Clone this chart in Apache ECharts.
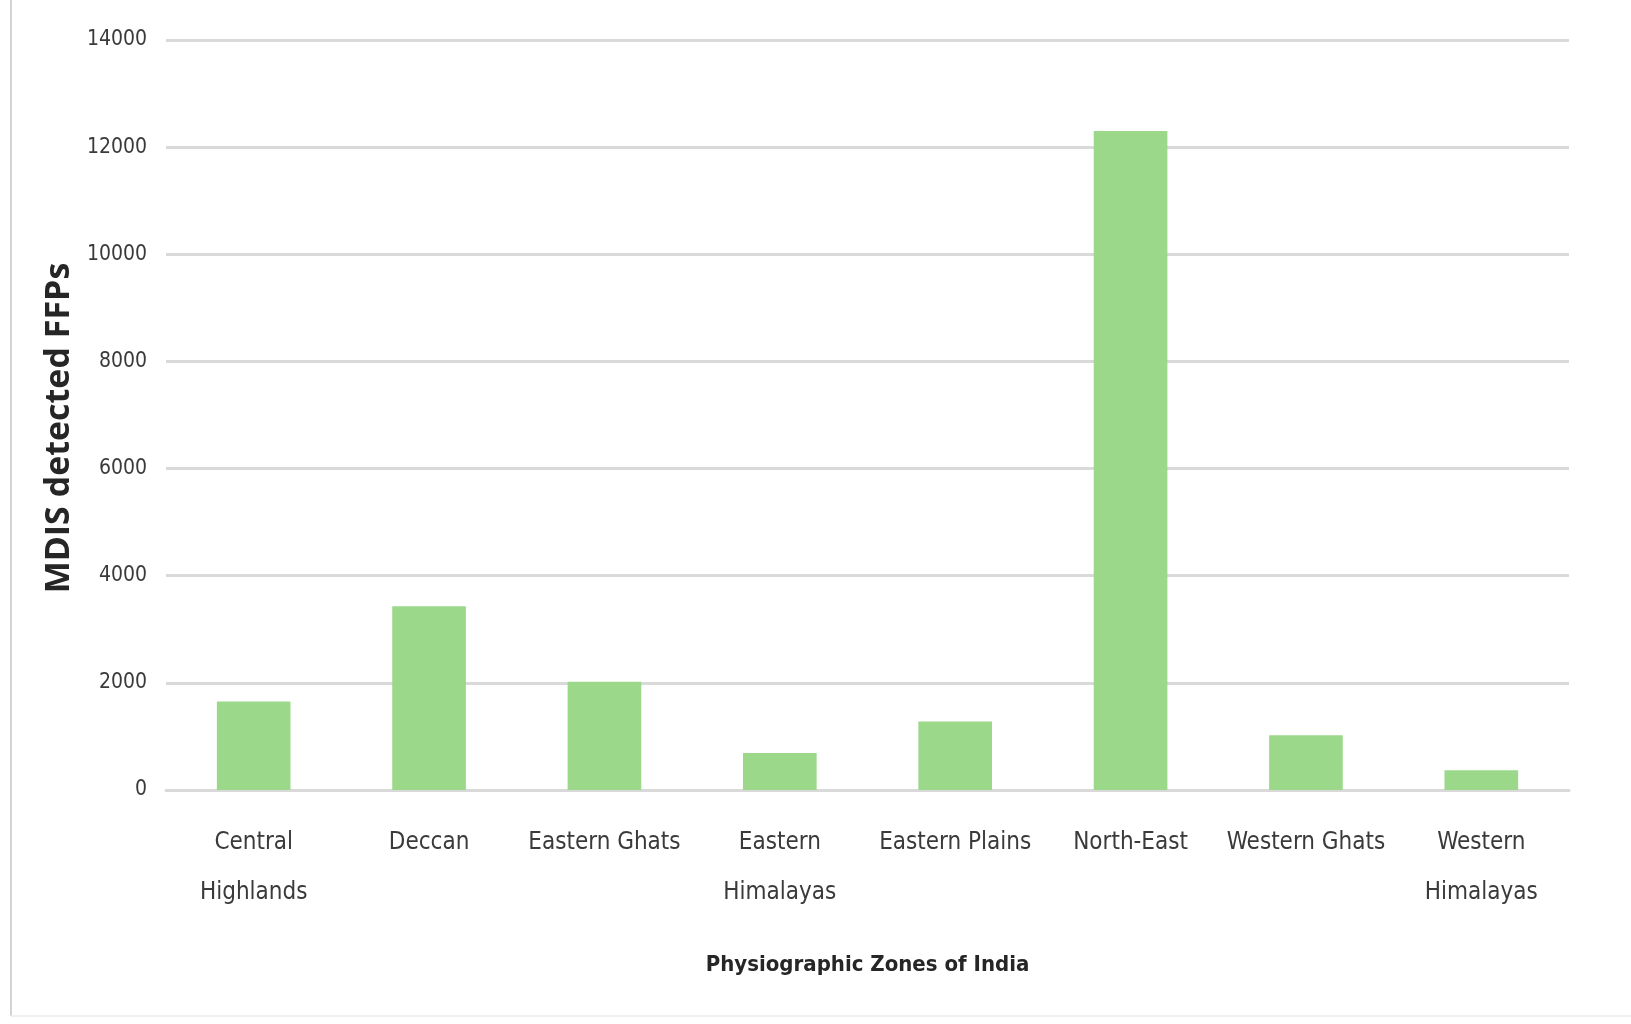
<!DOCTYPE html>
<html>
<head>
<meta charset="utf-8">
<style>
  html, body { margin: 0; padding: 0; background: #ffffff; }
  #main { width: 1631px; height: 1024px; }
</style>
<script src="https://cdn.jsdelivr.net/npm/echarts@6/dist/echarts.min.js"></script>
</head>
<body>
<div id="main"></div>
<script>
// data
var zones = [
  "Central\nHighlands",
  "Deccan",
  "Eastern Ghats",
  "Eastern\nHimalayas",
  "Eastern Plains",
  "North-East",
  "Western Ghats",
  "Western\nHimalayas"
];
var ffpCounts = [1650, 3430, 2020, 690, 1280, 12300, 1020, 370];
var yTicks = [0, 2000, 4000, 6000, 8000, 10000, 12000, 14000];

(function () {
  var myChart = echarts.init(document.getElementById("main"));
  var narrow = "'Liberation Sans Narrow', 'DejaVu Sans Condensed', sans-serif";

  var option = {
    backgroundColor: "#ffffff",
    animation: false,
    // faint frame line on the left like the original figure
    graphic: [
      {
        type: "line",
        shape: { x1: 11, y1: 0, x2: 11, y2: 1016 },
        style: { stroke: "#d4d4d4", lineWidth: 2 }
      },
      {
        type: "line",
        shape: { x1: 11, y1: 1016, x2: 1631, y2: 1016 },
        style: { stroke: "#f0f0f0", lineWidth: 2 }
      }
    ],
    grid: {
      left: 166,
      right: 62,
      top: 40,
      bottom: 234
    },
    xAxis: {
      type: "category",
      data: zones,
      name: "Physiographic Zones of India",
      nameLocation: "middle",
      nameGap: 164,
      nameTextStyle: {
        fontFamily: narrow,
        fontWeight: "bold",
        fontSize: 22,
        color: "#262626"
      },
      axisTick: { show: false },
      axisLine: {
        lineStyle: { color: "#d9d9d9", width: 3 }
      },
      axisLabel: {
        interval: 0,
        margin: 28,
        fontFamily: narrow,
        fontSize: 24,
        lineHeight: 50,
        color: "#3a3a3a"
      }
    },
    yAxis: {
      type: "value",
      min: yTicks[0],
      max: yTicks[yTicks.length - 1],
      interval: 2000,
      name: "MDIS detected FFPs",
      nameLocation: "middle",
      nameGap: 72,
      nameTextStyle: {
        fontFamily: "'Open Sans', sans-serif",
        fontWeight: "bold",
        fontSize: 34,
        color: "#262626",
        padding: [0, 26, 0, 0]
      },
      axisLine: { show: false },
      axisTick: { show: false },
      axisLabel: {
        margin: 19,
        fontFamily: narrow,
        fontSize: 21,
        color: "#3a3a3a",
        formatter: function (v) { return String(v); }
      },
      // 网格线
      splitLine: {
        lineStyle: { color: "#d9d9d9", width: 3 }
      }
    },
    series: [
      {
        name: "FFPs",
        type: "bar",
        data: ffpCounts,
        barWidth: "42%",
        itemStyle: { color: "#9bd88a" }
      }
    ]
  };

  myChart.setOption(option);
  window.addEventListener("resize", function () {
    myChart.resize();
  });
})();
</script>
</body>
</html>
